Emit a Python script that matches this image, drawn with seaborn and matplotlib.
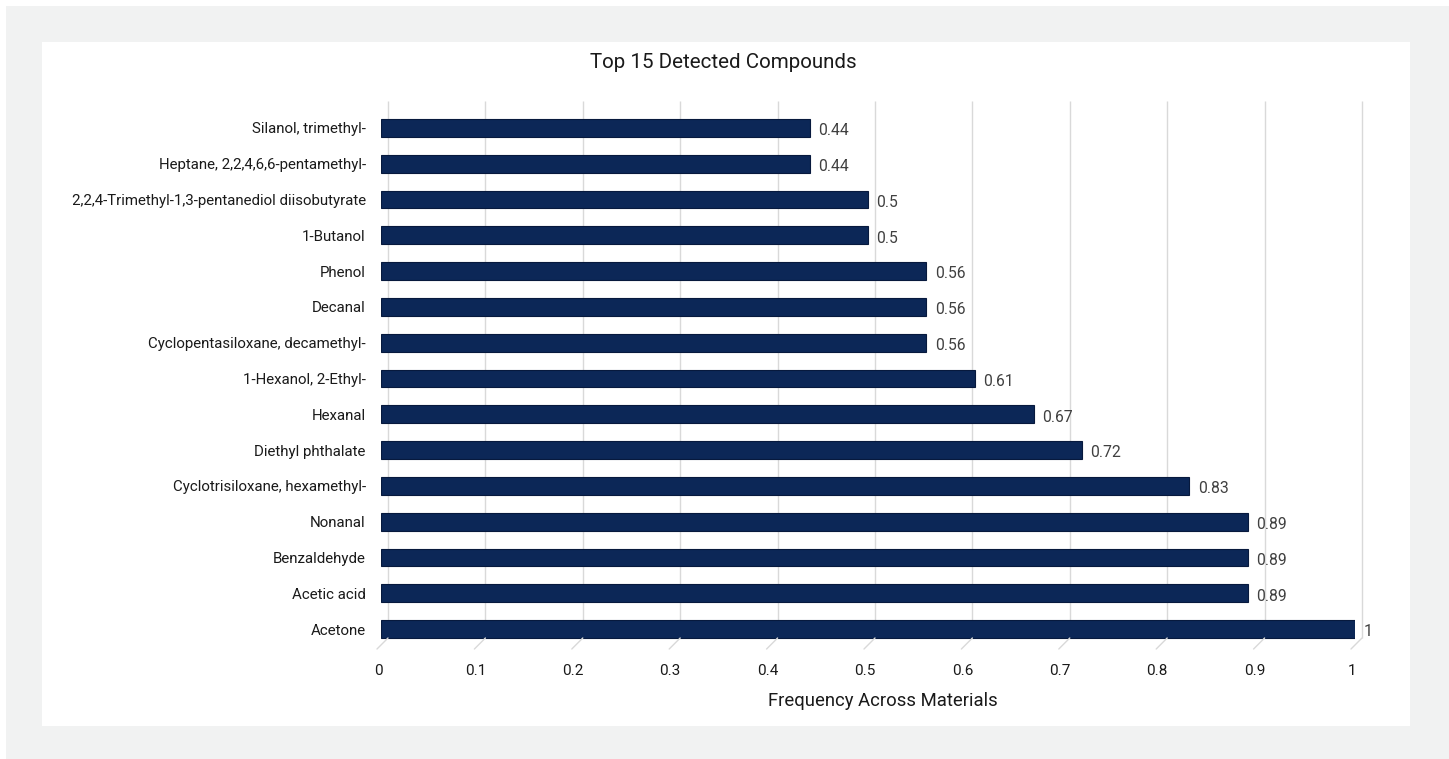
import matplotlib
matplotlib.use("Agg")
import matplotlib.pyplot as plt
import seaborn as sns
import pandas as pd
from matplotlib.patches import Rectangle
from matplotlib.transforms import ScaledTranslation

compounds = [
    "Silanol, trimethyl-",
    "Heptane, 2,2,4,6,6-pentamethyl-",
    "2,2,4-Trimethyl-1,3-pentanediol diisobutyrate",
    "1-Butanol",
    "Phenol",
    "Decanal",
    "Cyclopentasiloxane, decamethyl-",
    "1-Hexanol, 2-Ethyl-",
    "Hexanal",
    "Diethyl phthalate",
    "Cyclotrisiloxane, hexamethyl-",
    "Nonanal",
    "Benzaldehyde",
    "Acetic acid",
    "Acetone",
]
frequency = [0.44, 0.44, 0.5, 0.5, 0.56, 0.56, 0.56, 0.61, 0.67, 0.72, 0.83, 0.89, 0.89, 0.89, 1.0]
x_ticks = [0, 0.1, 0.2, 0.3, 0.4, 0.5, 0.6, 0.7, 0.8, 0.9, 1.0]
x_tick_labels = ["0", "0.1", "0.2", "0.3", "0.4", "0.5", "0.6", "0.7", "0.8", "0.9", "1"]

sns.set_style("white")
plt.rcParams["font.family"] = ["Roboto", "DejaVu Sans"]

W, H = 1449, 759
DPI = 100
fig = plt.figure(figsize=(W / DPI, H / DPI), dpi=DPI)
fig.patch.set_facecolor("white")
# gray outer frame and white panel
fig.patches.append(Rectangle((6 / W, 0), 1 - 6 / W, 1 - 6 / H, transform=fig.transFigure,
                             facecolor="#f1f2f2", edgecolor="none", zorder=-10))
fig.patches.append(Rectangle((42 / W, 1 - 726 / H), (1410 - 42) / W, (726 - 42) / H,
                             transform=fig.transFigure, facecolor="white", edgecolor="none", zorder=-9))

left, right = 381, 1355
top, bottom = 110, 647
ax = fig.add_axes([left / W, 1 - bottom / H, (right - left) / W, (bottom - top) / H])
ax.set_facecolor("none")

df = pd.DataFrame({"compound": compounds, "frequency": frequency})
sns.barplot(data=df, x="frequency", y="compound", orient="h", color="#0c2757",
            width=0.5, ax=ax, zorder=3, edgecolor="#07193d", linewidth=0.8, saturation=1)

ax.set_xlim(0, 1.0)
ax.set_ylim(14.5, -0.5)
ax.set_xticks(x_ticks)
ax.set_xticklabels(x_tick_labels, fontsize=11, color="#1a1a1a")
ax.tick_params(axis="x", length=0, pad=12)
ax.tick_params(axis="y", length=0, pad=11, labelsize=10.85, labelcolor="#1a1a1a")
ax.grid(False)
for s in ax.spines.values():
    s.set_visible(False)
shift_lbl = ScaledTranslation(-3 / DPI, 0, fig.dpi_scale_trans)
for lbl in ax.get_xticklabels():
    lbl.set_transform(lbl.get_transform() + shift_lbl)

# pseudo-3D gridlines (back wall shifted up/right) with slanted floor ticks
grid_col = "#d9d9d9"
back = ax.get_xaxis_transform() + ScaledTranslation(7 / DPI, 9 / DPI, fig.dpi_scale_trans)
ax.vlines(x_ticks, 0, 1, transform=back, color=grid_col, lw=1.0, zorder=0, clip_on=False)
for t in x_ticks:
    ax.annotate("", xy=(t, 0), xycoords=back, xytext=(-11, -11), textcoords="offset pixels",
                arrowprops=dict(arrowstyle="-", color=grid_col, lw=1.0, shrinkA=0, shrinkB=0),
                annotation_clip=False)

for i, v in enumerate(frequency):
    ax.annotate(f"{v:g}", (v, i), xytext=(6, -2), textcoords="offset points",
                va="center", ha="left", fontsize=11.3, color="#404040", zorder=4)

ax.set_ylabel("")
ax.set_xlabel("Frequency Across Materials", fontsize=13.3, color="#1a1a1a")
ax.xaxis.set_label_coords((883 - left) / (right - left), -(701 - bottom) / (bottom - top))
ax.xaxis.label.set_va("center")
fig.text(723 / W, 1 - 63 / H, "Top 15 Detected Compounds", ha="center", va="center",
         fontsize=14.8, color="#1a1a1a")

fig.savefig("out.png", dpi=DPI, facecolor=fig.get_facecolor())
